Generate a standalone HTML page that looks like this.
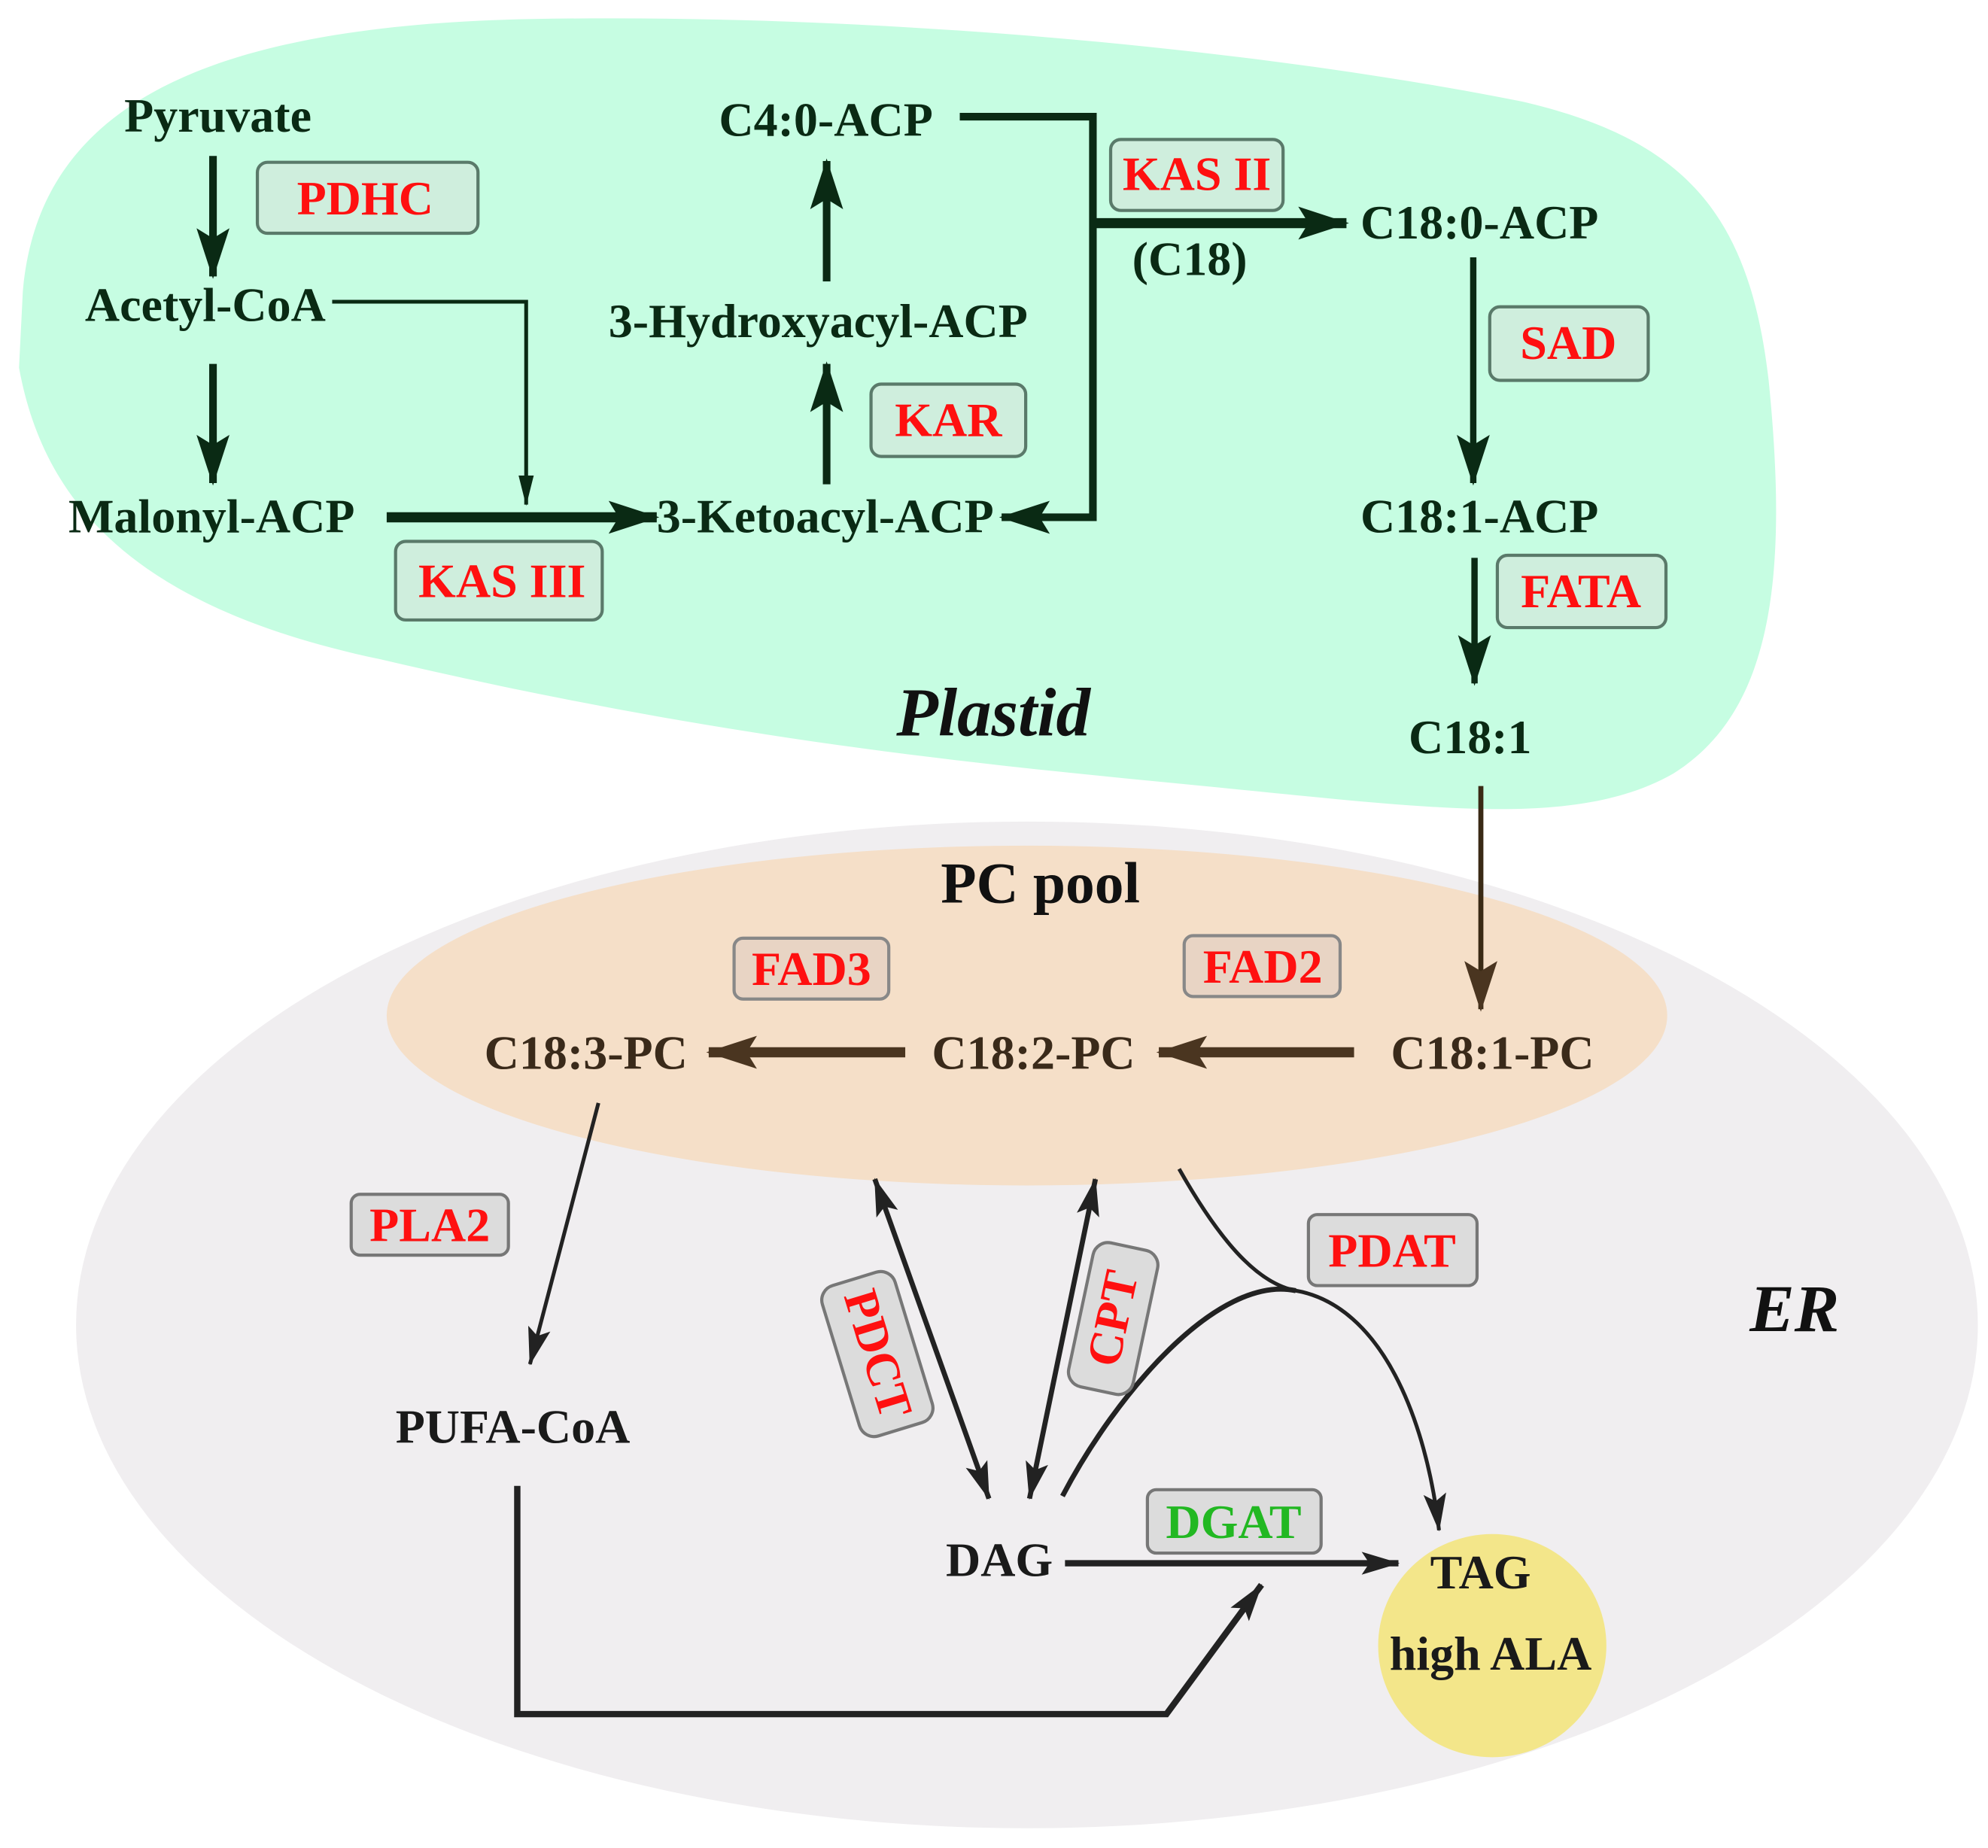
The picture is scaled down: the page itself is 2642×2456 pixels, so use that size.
<!DOCTYPE html>
<html><head><meta charset="utf-8"><style>
html,body{margin:0;padding:0;background:#fff}
svg{display:block}
text{font-family:"Liberation Serif",serif;font-weight:bold}
</style></head><body>
<svg width="2642" height="2456" viewBox="0 0 1568 1457.6" preserveAspectRatio="none" xmlns="http://www.w3.org/2000/svg">
<defs>
<marker id="ag" markerUnits="userSpaceOnUse" markerWidth="40" markerHeight="40" viewBox="0 0 40 40" refX="38" refY="20" orient="auto"><path d="M0,7 L40,20 L0,33 L8,20z" fill="#0a2a14"/></marker>
<marker id="agt" markerUnits="userSpaceOnUse" markerWidth="24" markerHeight="24" viewBox="0 0 24 24" refX="23" refY="12" orient="auto"><path d="M0,6 L24,12 L0,18z" fill="#0a2a14"/></marker>
<marker id="ab" markerUnits="userSpaceOnUse" markerWidth="40" markerHeight="40" viewBox="0 0 40 40" refX="38" refY="20" orient="auto"><path d="M0,7 L40,20 L0,33 L8,20z" fill="#4a3520"/></marker>
<marker id="ak" markerUnits="userSpaceOnUse" markerWidth="30" markerHeight="30" viewBox="0 0 30 30" refX="29" refY="15" orient="auto"><path d="M0,6 L30,15 L0,24 L6,15z" fill="#222"/></marker>
<marker id="aks" markerUnits="userSpaceOnUse" markerWidth="30" markerHeight="30" viewBox="0 0 30 30" refX="1" refY="15" orient="auto"><path d="M30,6 L0,15 L30,24 L24,15z" fill="#222"/></marker>
</defs>
<path d="M18,230 C30,90 150,20 420,15 C700,10 1000,40 1200,80 C1330,110 1380,170 1395,300 C1410,450 1400,560 1320,610 C1250,650 1150,640 1000,625 C800,605 600,590 300,520 C110,480 35,400 15,290 Z" fill="#c6fde2"/>
<ellipse cx="810" cy="1045" rx="750" ry="397" fill="#f0eef0"/>
<ellipse cx="810" cy="801" rx="505" ry="134" fill="#f5dfc8"/>
<ellipse cx="1177" cy="1298" rx="90" ry="88" fill="#f3e68a"/>

<g stroke="#0a2a14" fill="none">
<line x1="168" y1="123" x2="168" y2="218" stroke-width="6" marker-end="url(#ag)"/>
<line x1="168" y1="287" x2="168" y2="381" stroke-width="6" marker-end="url(#ag)"/>
<polyline points="262,238 415,238 415,398" stroke-width="3" marker-end="url(#agt)"/>
<line x1="305" y1="408" x2="518" y2="408" stroke-width="8" marker-end="url(#ag)"/>
<line x1="652" y1="382" x2="652" y2="287" stroke-width="6" marker-end="url(#ag)"/>
<line x1="652" y1="222" x2="652" y2="127" stroke-width="6" marker-end="url(#ag)"/>
<polyline points="757,92 862,92 862,408 790,408" stroke-width="6" marker-end="url(#ag)"/>
<line x1="862" y1="176" x2="1062" y2="176" stroke-width="8" marker-end="url(#ag)"/>
<line x1="1162" y1="203" x2="1162" y2="381" stroke-width="5" marker-end="url(#ag)"/>
<line x1="1163" y1="440" x2="1163" y2="539" stroke-width="5" marker-end="url(#ag)"/>
</g>
<line x1="1168" y1="620" x2="1168" y2="796" stroke="#3a2a15" stroke-width="4" marker-end="url(#ab)"/>
<line x1="1068" y1="830" x2="914" y2="830" stroke="#4a3520" stroke-width="8" marker-end="url(#ab)"/>
<line x1="714" y1="830" x2="559" y2="830" stroke="#4a3520" stroke-width="8" marker-end="url(#ab)"/>

<g stroke="#222" fill="none" stroke-width="4">
<line x1="472" y1="870" x2="418" y2="1076" stroke-width="3" marker-end="url(#ak)"/>
<line x1="690" y1="930" x2="780" y2="1182" marker-start="url(#aks)" marker-end="url(#ak)"/>
<line x1="864" y1="930" x2="812" y2="1182" marker-start="url(#aks)" marker-end="url(#ak)"/>
<line x1="840" y1="1233" x2="1103" y2="1233" stroke-width="5" marker-end="url(#ak)"/>
<path d="M930,922 C960,975 990,1012 1022,1018 C1090,1030 1125,1120 1135,1207" stroke-width="3" marker-end="url(#ak)"/>
<path d="M838,1180 C880,1100 960,1005 1022,1018" stroke-width="4"/>
<polyline points="408,1172 408,1352 920,1352 995,1250" stroke-width="5" marker-end="url(#ak)"/>
</g>

<g stroke="#5a7a6a" stroke-width="2.5" fill="#cfeedd">
<rect x="203" y="128" width="174" height="56" rx="8"/>
<rect x="312" y="427" width="163" height="62" rx="8"/>
<rect x="687" y="303" width="122" height="57" rx="8"/>
<rect x="876" y="110" width="136" height="56" rx="8"/>
<rect x="1175" y="242" width="125" height="58" rx="8"/>
<rect x="1181" y="438" width="133" height="57" rx="8"/>
</g>
<g stroke="#888" stroke-width="2.5" fill="#e8d4c4">
<rect x="579" y="740" width="122" height="48" rx="7"/>
<rect x="934" y="738" width="123" height="48" rx="7"/>
</g>
<g stroke="#777" stroke-width="2.5" fill="#dcdcdc">
<rect x="277" y="942" width="124" height="48" rx="7"/>
<rect x="1032" y="958" width="133" height="56" rx="7"/>
<rect x="905" y="1175" width="137" height="50" rx="7"/>
<rect x="-30" y="-62" width="60" height="124" rx="12" transform="translate(692,1068) rotate(-17)"/>
<rect x="-26" y="-58" width="52" height="116" rx="12" transform="translate(878,1040) rotate(12)"/>
</g>

<g font-size="38" fill="#0a2a14">
<text x="98" y="104">Pyruvate</text>
<text x="67" y="253">Acetyl-CoA</text>
<text x="54" y="420">Malonyl-ACP</text>
<text x="518" y="420">3-Ketoacyl-ACP</text>
<text x="480" y="266">3-Hydroxyacyl-ACP</text>
<text x="567" y="107">C4:0-ACP</text>
<text x="893" y="217">(C18)</text>
<text x="1073" y="188">C18:0-ACP</text>
<text x="1073" y="420">C18:1-ACP</text>
<text x="1111" y="594">C18:1</text>
</g>
<text x="707" y="580" font-size="54" font-style="italic" fill="#111">Plastid</text>
<text x="742" y="712" font-size="46" fill="#111">PC pool</text>
<text x="1380" y="1050" font-size="53" font-style="italic" fill="#111">ER</text>
<g font-size="38" fill="#3a2a1a">
<text x="382" y="843">C18:3-PC</text>
<text x="735" y="843">C18:2-PC</text>
<text x="1097" y="843">C18:1-PC</text>
</g>
<g font-size="38" fill="#1a1a1a">
<text x="312" y="1138">PUFA-CoA</text>
<text x="746" y="1243">DAG</text>
<text x="1128" y="1253">TAG</text>
<text x="1096" y="1317">high ALA</text>
</g>
<g font-size="38" fill="#ff1010" text-anchor="middle">
<text x="288" y="169">PDHC</text>
<text x="396" y="471">KAS III</text>
<text x="748" y="344">KAR</text>
<text x="944" y="150">KAS II</text>
<text x="1237" y="283">SAD</text>
<text x="1247" y="479">FATA</text>
<text x="640" y="777">FAD3</text>
<text x="996" y="775">FAD2</text>
<text x="339" y="979">PLA2</text>
<text x="1098" y="999">PDAT</text>
<text transform="translate(692,1068) rotate(73)" y="12">PDCT</text>
<text transform="translate(878,1040) rotate(-78)" y="12">CPT</text>
</g>
<text x="973" y="1213" font-size="38" fill="#22b822" text-anchor="middle">DGAT</text>
</svg>
</body></html>
